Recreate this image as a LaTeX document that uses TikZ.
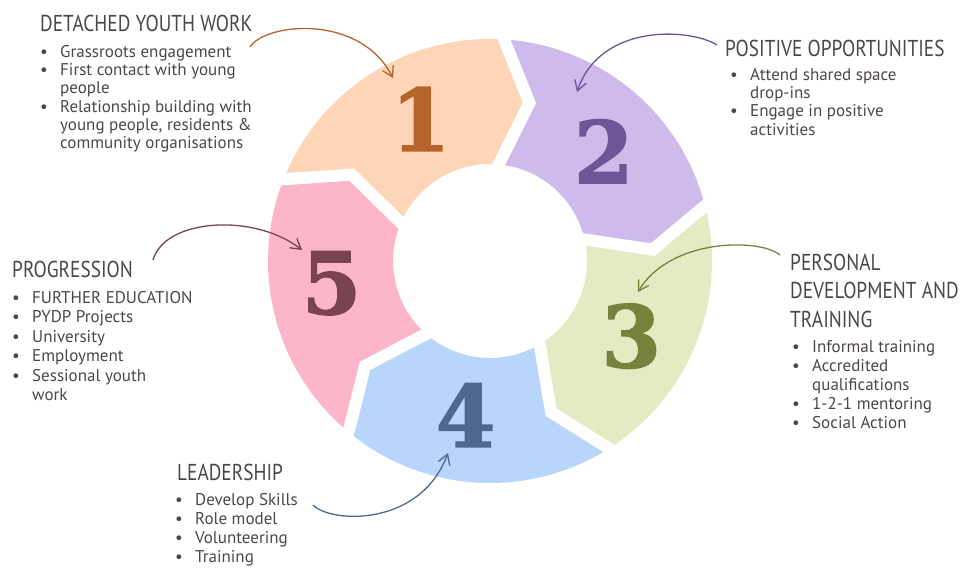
\documentclass[tikz,border=0pt]{standalone}
\usepackage{fontspec}
\setmainfont{PT Sans}
\newfontfamily\headfont[FakeStretch=0.84]{PT Sans}
\newfontfamily\numfont[FakeBold=1.5]{DejaVu Serif}
\usetikzlibrary{arrows.meta}
\definecolor{txt}{HTML}{4D4646}
\definecolor{segA}{HTML}{FED5B6}
\definecolor{segB}{HTML}{CFBBEB}
\definecolor{segC}{HTML}{E2EBC1}
\definecolor{segD}{HTML}{BAD5FB}
\definecolor{segE}{HTML}{FDB6C9}
\definecolor{numA}{HTML}{B5652B}
\definecolor{numB}{HTML}{6D5596}
\definecolor{numC}{HTML}{76833F}
\definecolor{numD}{HTML}{4F688D}
\definecolor{numE}{HTML}{7A4351}
\newcommand{\bl}{\makebox[20pt][l]{\textbullet}}
\newcommand{\cn}{\hspace*{20pt}}
\begin{document}
\begin{tikzpicture}[x=1pt,y=1pt]
\tikzset{head/.style = {anchor=base west,inner sep=0,text=txt,font=\headfont\fontsize{23}{28.5}\selectfont}}
\tikzset{items/.style = {anchor=north west,inner sep=0,align=left,text=txt,font=\fontsize{17}{#1}\selectfont}}
\tikzset{num/.style = {font=\numfont\bfseries\fontsize{86}{86}\selectfont}}
\tikzset{edge/.style = {->,> = {Straight Barb[length=10pt,width=12pt]},line width=1.3pt}}
\useasboundingbox (0,0) rectangle (965,568);
\coordinate (c) at (490,307);
% ring of five arrows
\begin{scope}[shift={(c)}]
\foreach \t/\seg in {160/segA, 88/segB, 16/segC, -56/segD, -128/segE}
  \fill[\seg] (\t:222) arc[start angle=\t, end angle=\t-72, radius=222]
    -- (\t-84:163) -- (\t-72:97) arc[start angle=\t-72, end angle=\t, radius=97]
    -- (\t-12:163) -- cycle;
\foreach \t in {160,88,16,-56,-128}
  \draw[white, line width=12pt] (\t:236) -- (\t-12:163) -- (\t:85);
\node[num, text=numA] (n1) at (116:158) {1};
\node[num, text=numB] (n2) at (44:158) {2};
\node[num, text=numC] (n3) at (-28:160) {3};
\node[num, text=numD] (n4) at (-99:156) {4};
\node[num, text=numE] (n5) at (-172:160) {5};
\end{scope}
% texts
\node[head] (dyw) at (40,536) {DETACHED YOUTH WORK};
\node[items=18.3] (dywl) at (40,524) {\rule{0pt}{13pt}\bl Grassroots engagement\\
  \bl First contact with young\\ \cn people\\
  \bl Relationship building with\\ \cn young people, residents \&\\
  \cn community organisations};
\node[head] (pos) at (725,511) {POSITIVE OPPORTUNITIES};
\node[items=18.3] (posl) at (730,501) {\rule{0pt}{13pt}\bl Attend shared space\\ \cn drop-ins\\
  \bl Engage in positive\\ \cn activities};
\node[head, anchor=north west, align=left] (pdt) at (790,315) {\rule{0pt}{17pt}PERSONAL\\DEVELOPMENT AND\\TRAINING};
\node[items=19] (pdtl) at (792,229) {\rule{0pt}{13pt}\bl Informal training\\ \bl Accredited\\ \cn qualifications\\
  \bl 1-2-1 mentoring\\ \bl Social Action};
\node[head] (lead) at (177,88) {LEADERSHIP};
\node[items=19] (leadl) at (175,76) {\rule{0pt}{13pt}\bl Develop Skills\\ \bl Role model\\ \bl Volunteering\\ \bl Training};
\node[head] (prog) at (12,290) {PROGRESSION};
\node[items=19.5] (progl) at (12,278) {\rule{0pt}{13pt}\bl FURTHER EDUCATION\\ \bl PYDP Projects\\ \bl University\\
  \bl Employment\\ \bl Sessional youth\\ \cn work};
% pointers
\coordinate (s1) at (250,521); \coordinate (e1) at (393,490);
\coordinate (s2) at (717,523); \coordinate (e2) at (577,476);
\coordinate (s3) at (780,313); \coordinate (e3) at (638,276);
\coordinate (s4) at (313,63);  \coordinate (e4) at (448,115);
\coordinate (s5) at (153,308); \coordinate (e5) at (302,318);
\draw[edge, numA] (s1) .. controls (265,545) and (360,555) .. (e1);
\draw[edge, numB] (s2) .. controls (690,540) and (600,545) .. (e2);
\draw[edge, numC] (s3) .. controls (760,330) and (670,330) .. (e3);
\draw[edge, numD] (s4) .. controls (330,45) and (420,40) .. (e4);
\draw[edge, numE] (s5) .. controls (165,350) and (255,355) .. (e5);
\end{tikzpicture}
\end{document}
